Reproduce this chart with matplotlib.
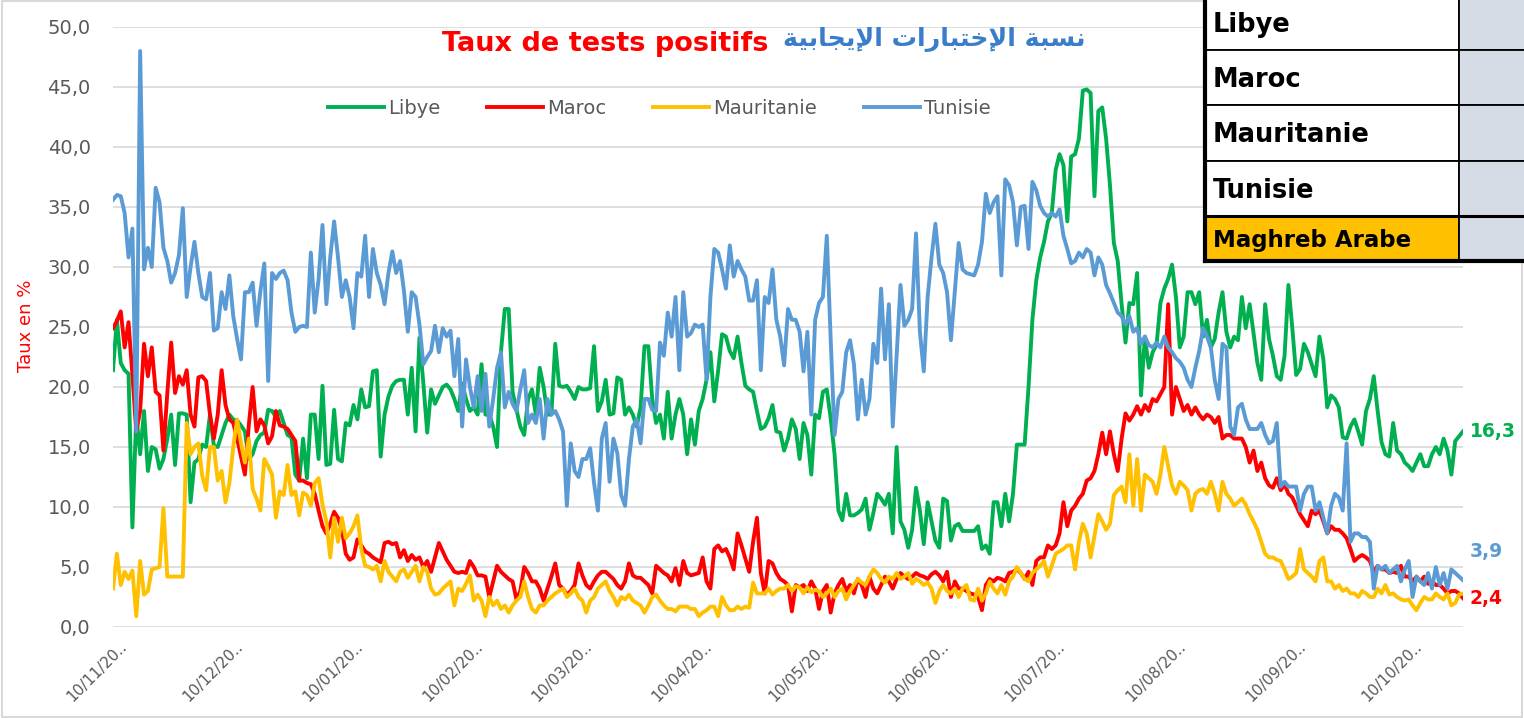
import numpy as np
import matplotlib
matplotlib.use('Agg')
import matplotlib.pyplot as plt
from matplotlib.patches import Rectangle
from matplotlib.transforms import ScaledTranslation

# Taux de tests positifs (%), une valeur par jour à partir du 10/11/2020
date_debut = '2020-11-10'

libye = [21.4, 25.6, 22.0, 21.4, 21.1, 8.3, 17.7, 14.4, 18.0, 13.0, 15.0, 14.8, 13.2, 14.0, 15.7, 17.7, 13.5, 17.8, 17.8, 17.7,
         10.4, 13.7, 14.0, 15.2, 15.0, 17.7, 15.1, 15.0, 16.0, 17.0, 17.7, 17.3, 17.2, 16.8, 16.3, 14.0, 14.4, 15.5, 16.0, 16.2,
         18.1, 18.0, 17.5,
         18.0, 17.0, 16.0, 15.8, 12.7, 12.2, 15.7, 12.4, 17.7, 17.7, 14.0, 20.1, 13.5, 13.6, 18.1, 14.0, 13.8, 17.0, 16.8, 18.5,
         17.3, 19.8, 18.3, 18.4, 21.3, 21.4, 14.2, 17.7, 19.2, 20.1, 20.5, 20.6, 20.6, 17.7, 21.6, 16.3, 24.1, 20.3, 16.2, 19.8,
         18.6, 19.3, 20.0, 20.2,
         19.8, 19.0, 18.0, 20.3, 19.0, 18.0, 18.3, 17.7, 21.9, 17.7, 17.7, 16.7, 15.0, 22.9, 26.5, 26.5, 19.6, 18.1, 16.7, 16.0,
         19.0, 19.8, 17.7, 21.6, 20.0, 17.7, 17.7, 23.6, 20.1, 20.0, 20.1, 19.6, 19.0, 20.0, 19.8, 19.8, 19.9, 23.4, 18.0, 18.8,
         20.6, 17.7, 17.8, 20.8,
         20.6, 17.7, 18.3, 17.7, 16.7, 18.3, 23.4, 23.4, 19.0, 17.0, 17.7, 15.7, 19.6, 15.7, 17.7, 19.0, 17.7, 14.4, 17.3, 15.2,
         18.0, 19.0, 20.6, 22.9, 18.8, 21.4, 24.4, 24.2, 23.0, 22.4, 24.2, 22.0, 20.1, 19.8, 19.6, 18.0, 16.5, 16.7, 17.4, 18.5,
         16.3, 16.2, 14.7, 15.7,
         17.3, 16.5, 14.0, 17.0, 16.0, 12.7, 17.7, 17.4, 19.6, 19.8, 17.4, 14.4, 9.7, 8.9, 11.1, 9.3, 9.3, 9.5, 9.8, 10.7,
         8.1, 9.5, 11.1, 10.7, 10.2, 11.1, 7.8, 15.0, 8.8, 8.1, 6.6, 8.1, 11.6, 9.7, 6.9, 10.4, 8.8, 7.2, 6.6, 10.7,
         10.5, 7.2,
         8.4, 8.6, 8.0, 8.0, 8.0, 8.0, 8.4, 6.5, 6.8, 6.1, 10.4, 10.4, 8.4, 11.1, 8.8, 11.1, 15.2, 15.2, 15.2, 20.0,
         25.6, 28.9, 30.8, 32.1, 33.8, 34.5, 38.1, 39.4, 38.5, 33.8, 39.2, 39.4, 40.7, 44.7, 44.8, 44.5, 35.9, 43.0, 43.3, 40.7,
         36.8, 32.0, 30.5, 26.9, 23.7, 27.0,
         26.9, 29.5, 19.3, 24.2, 21.6, 22.9, 23.5, 27.0, 28.2, 29.0, 30.2, 27.5, 23.3, 24.2, 27.9, 27.9, 26.9, 27.9, 24.2, 25.6,
         23.3, 24.0, 26.2, 27.9, 24.6, 23.3, 24.2, 23.9, 27.5, 24.9, 26.9, 24.5, 22.0, 20.6, 26.9, 24.0, 22.6, 20.9, 20.6, 22.6,
         28.5, 24.9, 21.0,
         21.5, 23.6, 22.9, 21.9, 20.9, 24.2, 22.3, 18.3, 19.3, 19.0, 18.3, 15.8, 15.7, 16.7, 17.3, 16.3, 15.2, 18.0, 19.0, 20.9,
         18.0, 15.4, 14.4, 14.2, 17.0, 14.7, 14.4, 13.7, 13.4, 13.0, 13.7, 14.4, 13.4, 13.4, 14.4, 15.0, 14.4, 15.7, 14.7, 12.7,
         15.5, 15.9, 16.3]

maroc = [24.9, 25.5, 26.3, 23.3, 25.4, 21.0, 16.3, 18.0, 23.6, 20.9, 23.3, 19.6, 19.3, 14.7, 19.5, 23.7, 19.5, 20.9, 20.2, 21.4,
         17.7, 16.7, 20.8, 20.9, 20.5, 17.7, 15.7, 17.7, 21.4, 18.5, 17.3, 17.0, 15.7, 14.2, 12.7, 16.8, 20.0, 16.3, 17.3, 16.8,
         15.3, 15.9, 18.0,
         16.8, 16.7, 16.5, 16.0, 15.5, 12.2, 12.2, 12.0, 11.9, 11.1, 9.7, 8.4, 7.8, 8.6, 9.6, 9.1, 8.1, 6.1, 5.6, 5.8,
         7.3, 6.8, 6.3, 6.1, 5.8, 5.6, 5.4, 7.0, 7.1, 6.9, 7.0, 5.8, 6.4, 5.5, 6.0, 5.6, 5.8, 5.0, 5.5, 4.6,
         5.8, 7.0, 6.3, 5.6,
         5.1, 4.6, 4.5, 4.6, 4.5, 5.5, 5.0, 4.3, 4.3, 4.2, 2.5, 3.8, 5.1, 4.6, 4.3, 4.0, 3.8, 2.3, 3.0, 5.0,
         4.5, 3.8, 3.8, 3.2, 2.2, 3.2, 4.2, 5.3, 3.5, 3.2, 2.7, 3.0, 3.5, 5.3, 4.3, 3.5, 3.2, 3.8, 4.3, 4.6,
         4.6, 4.3, 4.0, 3.5,
         3.2, 3.8, 5.3, 4.3, 4.1, 4.1, 3.8, 3.5, 2.8, 5.1, 4.8, 4.5, 4.3, 3.8, 4.9, 3.5, 5.5, 4.5, 4.3, 4.4,
         4.5, 5.8, 3.8, 3.2, 6.5, 6.8, 6.3, 6.5, 5.8, 4.8, 7.8, 6.8, 5.7, 4.6, 7.1, 9.1, 4.5, 2.8, 5.5, 5.3,
         4.5, 4.0, 3.8, 3.5,
         1.3, 3.5, 3.3, 3.5, 3.0, 3.8, 3.2, 1.5, 3.0, 3.5, 1.2, 2.8, 3.5, 4.0, 3.0, 3.5, 2.8, 4.0, 3.5, 2.5,
         4.2, 3.2, 2.8, 3.5, 4.2, 3.8, 3.2, 4.0, 4.5, 4.2, 4.0, 4.2, 4.5, 4.3, 4.2, 4.0, 4.4, 4.6, 4.3, 3.8,
         4.6, 2.5,
         3.8, 3.2, 3.2, 3.0, 2.8, 2.7, 2.5, 1.4, 3.5, 4.0, 3.8, 4.1, 4.0, 3.8, 4.5, 4.6, 4.8, 4.5, 4.0, 4.6,
         3.5, 5.5, 5.8, 5.8, 6.8, 6.5, 6.8, 7.8, 10.4, 8.4, 9.7, 10.1, 10.7, 11.1, 12.2, 12.4, 13.0, 14.4, 16.2, 14.4,
         16.3, 14.4, 13.0, 15.7, 17.8, 17.2,
         17.7, 18.4, 17.7, 18.5, 18.0, 19.0, 18.8, 19.4, 20.0, 26.9, 17.7, 20.0, 19.0, 18.0, 18.5, 17.7, 18.3, 17.7, 17.3, 17.7,
         17.5, 17.0, 17.5, 15.7, 16.0, 16.0, 15.7, 15.7, 15.7, 15.0, 13.7, 14.7, 13.0, 13.7, 12.4, 11.8, 11.6, 12.4, 11.4, 11.9,
         11.1, 10.8, 10.1,
         9.4, 8.9, 8.4, 9.7, 9.4, 9.7, 8.8, 7.8, 8.4, 8.1, 8.1, 7.8, 7.4, 6.5, 5.5, 5.8, 6.0, 5.8, 5.5, 4.6,
         5.1, 4.8, 4.8, 4.5, 4.6, 4.5, 5.1, 4.2, 4.2, 3.8, 4.2, 3.8, 4.2, 3.6, 3.8, 3.5, 3.5, 3.2, 2.8, 3.0,
         3.0, 2.8, 2.4]

mauritanie = [3.2, 6.1, 3.5, 4.6, 4.0, 4.7, 0.9, 5.5, 2.7, 3.0, 4.8, 4.9, 5.0, 9.9, 4.2, 4.2, 4.2, 4.2, 4.2, 17.0,
              14.4, 15.0, 15.3, 12.6, 11.4, 15.0, 15.0, 12.2, 13.0, 10.4, 12.0, 15.0, 17.3, 15.3, 13.7, 15.7, 11.5, 10.7, 9.7, 14.0,
              13.4, 12.7, 9.1,
              11.3, 11.0, 13.5, 11.0, 11.3, 9.3, 11.2, 11.0, 10.1, 12.0, 12.4, 10.2, 8.8, 5.8, 9.1, 7.1, 9.1, 7.4, 7.8, 8.4,
              9.3, 6.5, 5.1, 5.0, 4.8, 5.1, 3.8, 5.5, 4.6, 4.2, 3.8, 4.6, 4.8, 4.1, 4.6, 5.1, 3.8, 5.0, 4.6, 3.2,
              2.7, 2.8, 3.2, 3.5,
              3.8, 1.8, 3.2, 3.0, 3.6, 4.3, 2.2, 2.7, 2.2, 0.9, 2.5, 1.8, 2.2, 1.5, 1.8, 1.2, 1.8, 2.2, 2.5, 3.8,
              2.5, 1.5, 1.2, 1.8, 1.8, 2.2, 2.5, 2.8, 3.0, 3.2, 2.5, 2.8, 3.2, 2.5, 2.2, 1.2, 2.2, 2.5, 3.2, 3.5,
              3.8, 3.0, 2.5, 1.8,
              2.5, 2.3, 2.7, 2.2, 2.0, 1.8, 1.2, 1.8, 2.5, 2.7, 2.2, 1.8, 1.5, 1.5, 1.3, 1.7, 1.7, 1.7, 1.5, 1.5,
              0.9, 1.2, 1.4, 1.7, 1.7, 0.9, 2.5, 1.8, 1.4, 1.4, 1.7, 1.5, 1.7, 1.6, 3.7, 2.8, 2.8, 2.8, 3.2, 2.7,
              3.0, 3.2, 3.2, 3.5,
              3.0, 3.4, 3.3, 2.8, 3.3, 2.9, 3.1, 3.0, 2.5, 2.8, 3.2, 2.5, 3.0, 3.2, 2.3, 3.0, 3.5, 4.0, 3.7, 3.5,
              4.2, 4.8, 4.5, 4.0, 3.7, 4.2, 4.0, 4.5, 4.0, 4.2, 4.5, 3.6, 4.0, 3.8, 3.5, 3.7, 3.2, 2.0, 3.0, 3.5,
              3.0, 2.8,
              3.2, 2.5, 3.2, 3.5, 2.3, 2.2, 3.2, 2.2, 2.8, 3.8, 3.2, 2.8, 3.5, 2.7, 3.8, 4.2, 5.0, 4.5, 4.0, 3.8,
              4.5, 4.8, 5.1, 5.5, 4.2, 5.1, 6.1, 6.3, 6.5, 6.8, 6.8, 4.8, 7.1, 8.6, 7.8, 5.8, 7.6, 9.4, 8.8, 8.1,
              8.6, 11.0, 11.4, 11.7, 10.4, 14.4,
              10.1, 14.0, 9.7, 12.7, 12.4, 12.1, 11.1, 12.7, 15.0, 13.4, 11.8, 11.1, 12.1, 11.8, 11.4, 9.7, 11.1, 11.4, 11.5, 11.1,
              12.1, 11.1, 9.7, 12.1, 11.1, 10.7, 10.1, 10.4, 10.7, 10.2, 9.4, 8.8, 8.1, 7.1, 6.1, 5.8, 5.8, 5.6, 5.5, 4.8,
              4.0, 4.2, 4.5,
              6.5, 4.8, 4.5, 4.2, 3.8, 5.5, 5.8, 3.8, 3.8, 3.2, 3.5, 3.0, 3.2, 2.8, 2.8, 2.5, 3.0, 2.8, 2.5, 2.5,
              3.2, 2.8, 3.5, 2.7, 2.8, 2.5, 2.3, 2.2, 2.3, 1.8, 1.4, 2.0, 2.5, 2.3, 2.3, 2.8, 2.5, 2.3, 2.8, 1.8,
              2.0, 2.7, 2.8]

tunisie = [35.6, 36.0, 35.9, 34.5, 30.8, 33.2, 16.3, 48.0, 29.8, 31.6, 30.0, 36.6, 35.4, 31.6, 30.5, 28.7, 29.5, 31.0, 34.9, 27.5,
           30.0, 32.1, 29.5, 27.5, 27.3, 29.5, 24.7, 24.9, 27.9, 26.5, 29.3, 25.9, 24.0, 22.3, 27.9, 27.9, 28.7, 25.1, 28.0, 30.3,
           20.5, 29.5, 29.0,
           29.5, 29.7, 28.9, 26.2, 24.6, 25.0, 25.1, 25.0, 31.2, 26.2, 29.0, 33.5, 26.9, 30.8, 33.8, 30.8, 27.5, 28.9, 27.5, 24.9,
           29.5, 29.2, 32.6, 27.5, 31.5, 29.5, 28.5, 26.9, 29.5, 31.3, 29.5, 30.5, 28.0, 24.6, 27.9, 27.5, 25.2, 21.9, 22.5, 23.0,
           25.1, 22.9, 24.9, 24.2,
           24.7, 20.9, 24.0, 16.7, 22.3, 20.0, 18.3, 20.9, 18.0, 21.1, 16.7, 19.0, 21.6, 22.9, 18.3, 19.6, 18.6, 18.0, 19.8, 21.4,
           17.0, 17.7, 17.0, 19.0, 15.7, 19.0, 17.7, 18.0, 17.3, 16.3, 10.1, 15.3, 13.0, 12.5, 14.0, 14.0, 14.9, 12.0, 9.7, 15.7,
           17.0, 12.1, 15.7, 14.5,
           11.0, 10.1, 14.0, 16.7, 17.3, 15.3, 19.0, 19.0, 18.1, 18.0, 23.7, 22.6, 26.2, 24.2, 27.5, 21.4, 27.9, 24.2, 24.5, 25.2,
           25.0, 25.2, 20.6, 27.5, 31.5, 31.2, 29.8, 28.2, 31.8, 29.2, 30.5, 29.8, 29.2, 27.2, 27.2, 28.9, 21.4, 27.5, 27.0, 29.8,
           25.6, 24.2, 21.8, 26.5,
           25.6, 25.6, 24.6, 21.3, 24.6, 17.7, 25.6, 27.0, 27.5, 32.6, 24.0, 16.0, 19.0, 19.6, 22.9, 23.9, 21.9, 17.3, 20.6, 17.7,
           19.0, 23.6, 22.0, 28.2, 22.3, 26.9, 16.7, 22.6, 28.5, 25.1, 25.6, 26.5, 32.8, 24.6, 21.3, 27.5, 30.8, 33.6, 30.2, 29.5,
           27.9, 23.9,
           28.0, 32.0, 29.8, 29.5, 29.4, 29.3, 30.2, 32.1, 36.1, 34.5, 35.4, 35.9, 29.3, 37.3, 36.8, 35.4, 31.8, 35.0, 35.1, 31.5,
           37.1, 36.4, 35.1, 34.5, 34.2, 34.5, 34.2, 34.8, 32.6, 31.5, 30.3, 30.5, 31.2, 30.8, 31.5, 31.2, 29.3, 30.8, 30.2, 28.5,
           27.8, 27.0, 26.2, 25.9, 25.2, 25.9,
           24.6, 24.9, 23.6, 24.2, 23.5, 23.3, 23.7, 23.3, 24.2, 23.3, 22.9, 22.4, 22.1, 21.6, 20.6, 20.0, 21.6, 23.0, 24.9, 24.2,
           23.3, 20.6, 19.0, 23.6, 23.3, 16.7, 16.0, 18.3, 18.6, 17.3, 16.5, 16.5, 16.5, 17.0, 16.0, 15.3, 15.5, 17.0, 11.7, 12.1,
           11.7, 11.7, 11.7,
           9.7, 11.1, 11.7, 11.7, 9.7, 10.4, 9.1, 7.8, 10.1, 11.1, 10.8, 9.7, 15.3, 7.1, 7.8, 7.8, 7.5, 7.5, 7.1, 3.2,
           5.1, 4.8, 5.1, 4.5, 4.8, 5.1, 3.8, 4.8, 5.5, 2.5, 4.2, 3.8, 3.5, 4.5, 3.2, 5.0, 3.5, 4.5, 3.2, 4.8,
           4.5, 4.2, 3.9]

pays = ['Libye', 'Maroc', 'Mauritanie', 'Tunisie']
couleurs = ['#00b050', '#ff0000', '#ffc000', '#5b9bd5']

dates_ticks = ['2020-11-10', '2020-12-10', '2021-01-10', '2021-02-10', '2021-03-10', '2021-04-10',
               '2021-05-10', '2021-06-10', '2021-07-10', '2021-08-10', '2021-09-10', '2021-10-10']
labels_ticks = ['10/11/20..', '10/12/20..', '10/01/20..', '10/02/20..', '10/03/20..', '10/04/20..',
                '10/05/20..', '10/06/20..', '10/07/20..', '10/08/20..', '10/09/20..', '10/10/20..']

lignes_tableau = ['Libye', 'Maroc', 'Mauritanie', 'Tunisie', 'Maghreb Arabe']

titre_fr = 'Taux de tests positifs'
# "نسبة الإختبارات الإيجابية" en formes de présentation (matplotlib ne fait pas le façonnage arabe)
titre_ar = ('\uFE94\uFEF4\uFE91\uFE8E\uFEA0\uFEF3\uFEF9\uFE8D '
            '\uFE95\uFE8D\uFEAD\uFE8E\uFE92\uFE98\uFEA7\uFEF9\uFE8D '
            '\uFE94\uFE92\uFEB4\uFEE7')

W, H = 1524, 718
gris = '#595959'

fig = plt.figure(figsize=(W / 100, H / 100), dpi=100)
ax = fig.add_axes([113 / W, 1 - 627 / H, 1350 / W, 600 / H])

series = [libye, maroc, mauritanie, tunisie]
for nom, serie, c in zip(pays, series, couleurs):
    x = np.datetime64(date_debut) + np.arange(len(serie))
    ax.plot(x, serie, color=c, lw=2.8, label=nom, solid_joinstyle='round')

n = len(tunisie)
jours = np.datetime64(date_debut) + np.arange(n)
ax.set_xlim(jours[0], jours[-1])
ax.set_ylim(0, 50)

yt = np.arange(0, 51, 5)
ax.set_yticks(yt)
ax.set_yticklabels([f'{v:.1f}'.replace('.', ',') for v in yt])
ax.grid(axis='y', color='#d9d9d9', lw=1.2)
ax.set_axisbelow(True)
for s in ax.spines.values():
    s.set_visible(False)
ax.tick_params(length=0, colors=gris)
ax.tick_params(axis='y', labelsize=14, pad=16)
ax.tick_params(axis='x', labelsize=11, pad=0)

ax.set_xticks(np.array(dates_ticks, dtype='datetime64[D]'))
ax.set_xticklabels(labels_ticks, rotation=45, ha='right', va='center', rotation_mode='anchor')
for lab in ax.get_xticklabels():
    lab.set_transform(lab.get_transform() + ScaledTranslation(0.11, -0.17, fig.dpi_scale_trans))

fig.text(26 / W, 1 - 326 / H, 'Taux en %', rotation=90, ha='center', va='center', color='#ff0000', fontsize=13)

# titres
fig.text(768 / W, 1 - 44 / H, titre_fr, ha='right', va='center', color='#ff0000', fontsize=19.5, fontweight='bold')
fig.text(783 / W, 1 - 40 / H, titre_ar, ha='left', va='center', color='#3a7dc9', fontsize=18.2, fontweight='bold',
         family=['DejaVu Sans'])

leg = ax.legend(loc='center', bbox_to_anchor=(659 / W, 1 - 108 / H), bbox_transform=fig.transFigure,
                ncol=4, frameon=False, fontsize=14, handlelength=2.9, columnspacing=2.4, handletextpad=0.2)
for t in leg.get_texts():
    t.set_color(gris)

# valeurs finales
fins = [(libye, couleurs[0], 0), (tunisie, couleurs[3], 21), (maroc, couleurs[1], 0)]
for serie, c, dy in fins:
    ax.annotate(f'{serie[-1]:.1f}'.replace('.', ','), xy=(jours[len(serie) - 1], serie[-1]),
                xytext=(5, dy), textcoords='offset points', ha='left', va='center',
                color=c, fontsize=13.5, fontweight='bold', annotation_clip=False)

# tableau en haut à droite
x0, xc, x1 = 1205, 1459, 1530
bords = [-5, 50, 105, 161, 216, 261]
for i, nom in enumerate(lignes_tableau):
    ya, yb = bords[i], bords[i + 1]
    fond = '#ffc000' if nom == 'Maghreb Arabe' else 'white'
    fig.patches.append(Rectangle((x0 / W, 1 - yb / H), (xc - x0) / W, (yb - ya) / H, transform=fig.transFigure,
                                 facecolor=fond, edgecolor='black', lw=1.3, zorder=5))
    fig.patches.append(Rectangle((xc / W, 1 - yb / H), (x1 - xc) / W, (yb - ya) / H, transform=fig.transFigure,
                                 facecolor='#d6dce5', edgecolor='black', lw=1.3, zorder=5))
    fig.text(1213 / W, 1 - (ya + yb) / 2 / H - 0.003, nom, ha='left', va='center', color='black',
             fontsize=16.5 if nom == 'Maghreb Arabe' else 18.5, fontweight='bold', zorder=6)
# bord épais
fig.add_artist(plt.Line2D([x0 / W, x0 / W], [1, 1 - 261 / H], color='black', lw=3, zorder=7))
fig.add_artist(plt.Line2D([x0 / W, 1], [1 - 261 / H, 1 - 261 / H], color='black', lw=3, zorder=7))
fig.add_artist(plt.Line2D([x0 / W, 1], [1 - 216 / H, 1 - 216 / H], color='black', lw=2.2, zorder=7))

fig.patches.append(Rectangle((0.001, 0.001), 0.998, 0.997, transform=fig.transFigure, fill=False,
                             edgecolor='#d9d9d9', lw=1.5, zorder=0))

fig.savefig('out.png', dpi=100)
